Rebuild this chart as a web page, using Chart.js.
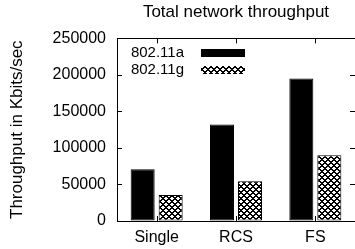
<!DOCTYPE html>
<html>
<head>
<meta charset="utf-8">
<script src="https://cdn.jsdelivr.net/npm/chart.js@4.4.1/dist/chart.umd.min.js"></script>
<style>
    html, body { margin: 0; padding: 0; background: #fff; }
    #wrap { width: 355px; height: 249px; }
</style>
</head>
<body>
<div id="wrap"><canvas id="throughputChart" width="355" height="249"></canvas></div>
<script>
// chart data
var categories = ['Single', 'RCS', 'FS'];
var seriesNames = ['802.11a', '802.11g'];
var valuesA = [71000, 132000, 195000];
var valuesG = [35500, 54500, 90000];
var yTicks = [0, 50000, 100000, 150000, 200000, 250000];

var FONT = '"Liberation Sans", Arial, sans-serif';

// crosshatch fill used by gnuplot for the second series
function makeHatch() {
    var size = 6;
    var c = document.createElement('canvas');
    c.width = size;
    c.height = size;
    var g = c.getContext('2d');
    var img = g.createImageData(size, size);
    for (var y = 0; y < size; y++) {
        for (var x = 0; x < size; x++) {
            var a = (x + y) % size, b = (x - y + size) % size;
            var dark = (a < 2 || b < 2);
            var i = (y * size + x) * 4;
            var v = dark ? 0 : 255;
            img.data[i] = v; img.data[i + 1] = v; img.data[i + 2] = v; img.data[i + 3] = 255;
        }
    }
    g.putImageData(img, 0, 0);
    return c;
}

var hatchCanvas = makeHatch();
var ctx = document.getElementById('throughputChart').getContext('2d');
var hatch = ctx.createPattern(hatchCanvas, 'repeat');

// gnuplot style frame: top border, inward ticks, legend with text left of sample
var framePlugin = {
    id: 'frame',
    afterDraw: function (chart) {
        var c = chart.ctx;
        var area = chart.chartArea;
        var xs = chart.scales.x, ys = chart.scales.y;
        c.save();
        c.strokeStyle = '#000';
        c.lineWidth = 1;
        c.beginPath();
        c.moveTo(area.left, Math.round(area.top) + 0.5);
        c.lineTo(area.right, Math.round(area.top) + 0.5);
        ys.ticks.forEach(function (t) {
            var py = Math.round(ys.getPixelForValue(t.value)) + 0.5;
            c.moveTo(area.left, py);
            c.lineTo(area.left + 5, py);
            c.moveTo(area.right - 5, py);
            c.lineTo(area.right, py);
        });
        categories.forEach(function (cat, i) {
            var px = Math.round(xs.getPixelForValue(i)) + 0.5;
            c.moveTo(px, area.top);
            c.lineTo(px, area.top + 5);
            c.moveTo(px, area.bottom);
            c.lineTo(px, area.bottom - 5);
        });
        c.stroke();

        // legend
        c.font = '15px ' + FONT;
        c.textAlign = 'right';
        c.textBaseline = 'middle';
        c.fillStyle = '#000';
        chart.data.datasets.forEach(function (ds, i) {
            var cy = 53 + i * 17;
            c.fillText(ds.label, 184, cy);
            c.fillStyle = ds.backgroundColor;
            c.fillRect(201, cy - 4, 44, 8);
            c.fillStyle = '#000';
        });
        c.restore();
    }
};

var throughputChart = new Chart(ctx, {
    type: 'bar',
    data: {
        labels: categories,
        datasets: [{
            label: seriesNames[0],
            data: valuesA,
            backgroundColor: '#000',
            borderColor: '#000',
            borderWidth: 1,
            borderSkipped: false,
            barPercentage: 0.857,
            categoryPercentage: 0.706
        }, {
            label: seriesNames[1],
            data: valuesG,
            backgroundColor: hatch,
            borderColor: '#000',
            borderWidth: 1,
            borderSkipped: false,
            barPercentage: 0.857,
            categoryPercentage: 0.706
        }]
    },
    options: {
        responsive: false,
        animation: false,
        layout: { padding: { left: 0, right: 0, top: 0, bottom: 0 } },
        plugins: {
            legend: { display: false },
            tooltip: { enabled: false },
            title: {
                display: true,
                text: 'Total network throughput',
                fullSize: false,
                color: '#000',
                font: { family: FONT, size: 17, weight: 'normal', lineHeight: 1.2 },
                padding: { top: 2, bottom: 16 }
            }
        },
        scales: {
            x: {
                grid: { drawOnChartArea: false, drawTicks: false },
                border: { display: true, color: '#000', width: 1 },
                ticks: {
                    color: '#000',
                    padding: 7,
                    font: { family: FONT, size: 16 }
                },
                afterFit: function (scale) { scale.height = 28; }
            },
            y: {
                min: 0,
                max: 250000,
                grid: { drawOnChartArea: false, drawTicks: false },
                border: { display: true, color: '#000', width: 1 },
                afterBuildTicks: function (scale) {
                    scale.ticks = yTicks.map(function (v) { return { value: v }; });
                },
                ticks: {
                    color: '#000',
                    padding: 11,
                    font: { family: FONT, size: 16 },
                    callback: function (v) { return String(v); }
                },
                title: {
                    display: true,
                    text: 'Throughput in Kbits/sec',
                    color: '#000',
                    font: { family: FONT, size: 17 },
                    padding: { top: 7, bottom: 0 }
                },
                afterFit: function (scale) { scale.width = 117; }
            }
        }
    },
    plugins: [framePlugin]
});
</script>
</body>
</html>
